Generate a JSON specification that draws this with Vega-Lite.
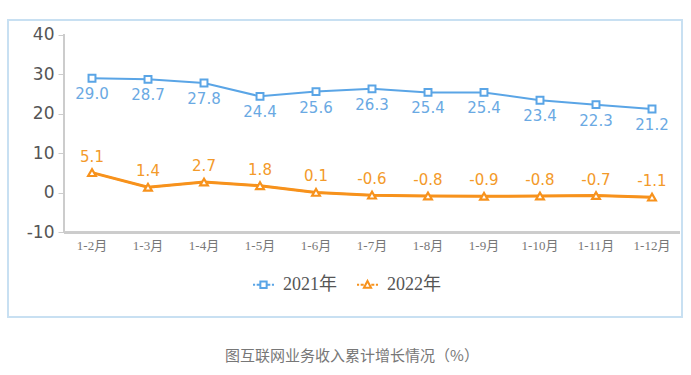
{
  "$schema": "https://vega.github.io/schema/vega-lite/v6.json",
  "width": 674,
  "height": 297,
  "autosize": {"type": "none"},
  "padding": {"left": 8, "top": 20, "right": 9, "bottom": 58},
  "background": "white",
  "title": {"text": "图互联网业务收入累计增长情况（%）", "orient": "bottom", "anchor": "middle", "offset": 32, "dx": 7, "fontSize": 15, "font": "Noto Sans CJK SC", "fontWeight": "normal", "color": "#777777"},
  "data": {"values": [
    {"month": "1-2月", "series": "2021年", "value": 29.0},
    {"month": "1-3月", "series": "2021年", "value": 28.7},
    {"month": "1-4月", "series": "2021年", "value": 27.8},
    {"month": "1-5月", "series": "2021年", "value": 24.4},
    {"month": "1-6月", "series": "2021年", "value": 25.6},
    {"month": "1-7月", "series": "2021年", "value": 26.3},
    {"month": "1-8月", "series": "2021年", "value": 25.4},
    {"month": "1-9月", "series": "2021年", "value": 25.4},
    {"month": "1-10月", "series": "2021年", "value": 23.4},
    {"month": "1-11月", "series": "2021年", "value": 22.3},
    {"month": "1-12月", "series": "2021年", "value": 21.2},
    {"month": "1-2月", "series": "2022年", "value": 5.1},
    {"month": "1-3月", "series": "2022年", "value": 1.4},
    {"month": "1-4月", "series": "2022年", "value": 2.7},
    {"month": "1-5月", "series": "2022年", "value": 1.8},
    {"month": "1-6月", "series": "2022年", "value": 0.1},
    {"month": "1-7月", "series": "2022年", "value": -0.6},
    {"month": "1-8月", "series": "2022年", "value": -0.8},
    {"month": "1-9月", "series": "2022年", "value": -0.9},
    {"month": "1-10月", "series": "2022年", "value": -0.8},
    {"month": "1-11月", "series": "2022年", "value": -0.7},
    {"month": "1-12月", "series": "2022年", "value": -1.1}
  ]},
  "layer": [
    {
      "mark": {"type": "rule", "color": "#cccccc", "strokeWidth": 2},
      "encoding": {
        "x": {"datum": "1-2月", "type": "nominal", "bandPosition": 0},
        "y": {"datum": -10, "type": "quantitative"},
        "y2": {"datum": 40}
      }
    },
    {
      "mark": {"type": "rule", "color": "#cccccc", "strokeWidth": 2},
      "encoding": {
        "x": {"datum": "1-2月", "type": "nominal", "bandPosition": 0},
        "x2": {"datum": "1-12月", "bandPosition": 1},
        "y": {"datum": -10, "type": "quantitative"}
      }
    },
    {
      "mark": {"type": "line", "strokeWidth": 2},
      "encoding": {
        "x": {"field": "month", "type": "nominal", "sort": null},
        "y": {"field": "value", "type": "quantitative"},
        "color": {
          "field": "series", "type": "nominal",
          "scale": {"domain": ["2021年", "2022年"], "range": ["#5aa5e6", "#f7921c"]},
          "legend": {
            "orient": "none", "legendX": 244, "legendY": 253, "direction": "horizontal", "title": null,
            "labelFont": "Liberation Serif, Noto Sans CJK SC", "labelFontSize": 18, "labelColor": "#555555",
            "symbolSize": 441, "symbolStrokeWidth": 2, "labelOffset": 8, "columnPadding": 16,
            "encode": {"symbols": {"update": {
              "shape": {"signal": "datum.value === '2021年' ? 'M-1,0H-0.8M-0.65,0H-0.32M0.32,0H0.65M0.8,0H1M-0.3,-0.3H0.3V0.3H-0.3Z' : 'M-1,0H-0.8M-0.65,0H-0.36M0.36,0H0.65M0.8,0H1M0,-0.36L0.34,0.28H-0.34Z'"},
              "fill": {"value": "white"},
              "strokeWidth": {"value": 2}
            }}}
          }
        }
      }
    },
    {
      "transform": [{"filter": "datum.series === '2022年'"}],
      "mark": {"type": "line", "strokeWidth": 3, "color": "#f7921c"},
      "encoding": {
        "x": {"field": "month", "type": "nominal", "sort": null},
        "y": {"field": "value", "type": "quantitative"}
      }
    },
    {
      "transform": [{"filter": "datum.series === '2021年'"}],
      "mark": {"type": "point", "shape": "square", "filled": true, "fill": "white", "stroke": "#5aa5e6", "size": 48, "strokeWidth": 2, "opacity": 1},
      "encoding": {
        "x": {"field": "month", "type": "nominal", "sort": null},
        "y": {"field": "value", "type": "quantitative"}
      }
    },
    {
      "transform": [{"filter": "datum.series === '2022年'"}],
      "mark": {"type": "point", "shape": "triangle-up", "filled": true, "fill": "white", "stroke": "#f7921c", "size": 60, "strokeWidth": 2.2, "opacity": 1},
      "encoding": {
        "x": {"field": "month", "type": "nominal", "sort": null},
        "y": {"field": "value", "type": "quantitative"}
      }
    },
    {
      "transform": [{"filter": "datum.series === '2021年'"}],
      "mark": {"type": "text", "dy": 16, "fontSize": 15, "font": "DejaVu Sans", "color": "#6aa9e3"},
      "encoding": {
        "x": {"field": "month", "type": "nominal", "sort": null},
        "y": {"field": "value", "type": "quantitative"},
        "text": {"field": "value", "type": "quantitative", "format": ".1f"}
      }
    },
    {
      "transform": [{"filter": "datum.series === '2022年'"}],
      "mark": {"type": "text", "dy": -16, "fontSize": 15, "font": "DejaVu Sans", "color": "#f39a2a"},
      "encoding": {
        "x": {"field": "month", "type": "nominal", "sort": null},
        "y": {"field": "value", "type": "quantitative"},
        "text": {"field": "value", "type": "quantitative", "format": ".1f"}
      }
    }
  ],
  "encoding": {
    "x": {
      "field": "month", "type": "nominal", "sort": null,
      "scale": {"type": "band", "domain": ["1-2月", "1-3月", "1-4月", "1-5月", "1-6月", "1-7月", "1-8月", "1-9月", "1-10月", "1-11月", "1-12月"], "paddingInner": 0, "paddingOuter": 0.5179, "align": 0.9655},
      "axis": {"orient": "bottom", "offset": -85, "domain": false, "ticks": false, "labelPadding": 7, "labelAngle": 0, "labelFont": "Liberation Serif, Noto Sans CJK SC", "labelFontSize": 13, "labelColor": "#777777", "title": null}
    },
    "y": {
      "field": "value", "type": "quantitative",
      "scale": {"domain": [-31.43, 43.72], "nice": false, "zero": false},
      "axis": {"values": [-10, 0, 10, 20, 30, 40], "offset": -56, "domain": false, "grid": false, "tickSize": 6, "tickColor": "#cccccc", "tickWidth": 1, "labelFont": "DejaVu Sans", "labelFontSize": 17, "labelColor": "#555555", "labelPadding": 4, "title": null}
    }
  },
  "config": {
    "locale": {"number": {"decimal": ".", "thousands": ",", "grouping": [3], "currency": ["$", ""], "minus": "-"}},
    "view": {"stroke": "#c8e0f2", "strokeWidth": 2}
  }
}
